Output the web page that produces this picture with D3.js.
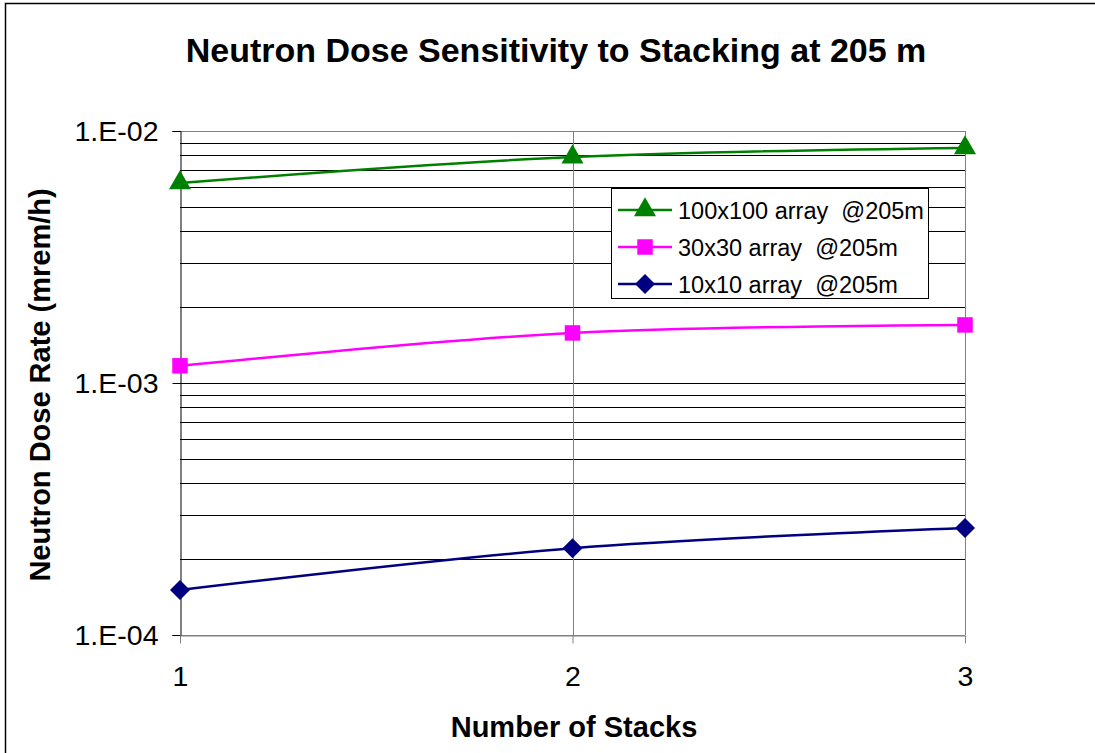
<!DOCTYPE html>
<html><head><meta charset="utf-8">
<script src="https://cdn.jsdelivr.net/npm/d3@7/dist/d3.min.js"></script>
<style>body{margin:0;background:#fff}svg{display:block;font-family:"Liberation Sans",Arial,sans-serif}</style>
</head><body>
<svg id="c" width="1095" height="753"></svg>
<script>
const stacks = [1, 2, 3];
const series100 = [6.22e-3, 7.88e-3, 8.57e-3];
const series30 = [1.17e-3, 1.58e-3, 1.70e-3];
const series10 = [1.51e-4, 2.21e-4, 2.66e-4];
const seriesNames = ["100x100 array  @205m", "30x30 array  @205m", "10x10 array  @205m"];
const yTickValues = [1e-4, 1e-3, 1e-2];
const yTickLabels = ["1.E-04", "1.E-03", "1.E-02"];
const xTickLabels = ["1", "2", "3"];

(function () {
const svg = d3.select("#c");
const pL = 180, pR = 965, pT = 131, pB = 635;
const x = d3.scaleLinear().domain([1, 3]).range([pL, pR]);
const y = d3.scaleLog().domain([1e-4, 1e-2]).range([pB, pT]);

// outer border
svg.append("rect").attr("x", 5.5).attr("y", 3.5).attr("width", 1100).attr("height", 800)
  .attr("fill", "none").attr("stroke", "#000").attr("stroke-width", 1.5);

// title
svg.append("text").attr("x", 556).attr("y", 62).attr("text-anchor", "middle")
  .attr("font-size", 34).attr("font-weight", "bold").text("Neutron Dose Sensitivity to Stacking at 205 m");

// horizontal gridlines at minor ticks
const gridVals = [];
for (let d = -4; d < -2; d++) for (let m = 1; m <= 9; m++) gridVals.push(m * Math.pow(10, d));
gridVals.push(1e-2);
const g = svg.append("g").attr("shape-rendering", "crispEdges");
g.selectAll("line.h").data(gridVals).join("line")
  .attr("x1", pL).attr("x2", pR)
  .attr("y1", d => Math.round(y(d)) + 0.5).attr("y2", d => Math.round(y(d)) + 0.5)
  .attr("stroke", (d, i) => (i === 0 || d === 1e-2) ? "#808080" : "#000").attr("stroke-width", 1);

// vertical gridlines
g.selectAll("line.v").data([2, 3]).join("line")
  .attr("x1", d => Math.round(x(d)) + 0.5).attr("x2", d => Math.round(x(d)) + 0.5)
  .attr("y1", pT).attr("y2", pB)
  .attr("stroke", "#808080");

// y axis
const yAxis = d3.axisLeft(y).tickValues(yTickValues).tickFormat((d, i) => yTickLabels[i]).tickSize(8).tickPadding(14);
const ya = svg.append("g").attr("transform", `translate(${pL + 0.5},0)`).call(yAxis);
ya.selectAll("text").attr("font-size", 28.5).attr("fill", "#000").attr("font-family", "Liberation Sans, Arial, sans-serif");
ya.selectAll("line,path").attr("stroke", "#000");

// x axis
const xAxis = d3.axisBottom(x).tickValues(stacks).tickFormat((d, i) => xTickLabels[i]).tickSize(8).tickSizeOuter(0).tickPadding(22);
const xa = svg.append("g").attr("transform", `translate(0,${pB + 0.5})`).call(xAxis);
xa.selectAll("text").attr("font-size", 28.5).attr("fill", "#000").attr("font-family", "Liberation Sans, Arial, sans-serif");
xa.selectAll("line").attr("stroke", "#808080");
xa.select("path").attr("stroke", "#808080");
ya.select("path").attr("stroke", "#000");

// axis titles
svg.append("text").attr("x", 574).attr("y", 737).attr("text-anchor", "middle")
  .attr("font-size", 29).attr("font-weight", "bold").text("Number of Stacks");
svg.append("text").attr("transform", "translate(50,385) rotate(-90)").attr("text-anchor", "middle")
  .attr("font-size", 29).attr("font-weight", "bold").text("Neutron Dose Rate (mrem/h)");

const diamond = {
  draw(ctx, size) {
    const r = Math.sqrt(size / 2);
    ctx.moveTo(0, -r); ctx.lineTo(r, 0); ctx.lineTo(0, r); ctx.lineTo(-r, 0); ctx.closePath();
  }
};
const series = [
  { name: seriesNames[0], vals: series100, color: "#008000", shape: d3.symbolTriangle, size: 210 },
  { name: seriesNames[1], vals: series30, color: "#FF00FF", shape: d3.symbolSquare, size: 240 },
  { name: seriesNames[2], vals: series10, color: "#000080", shape: diamond, size: 200 }
];

const line = d3.line().x(d => x(d[0])).y(d => y(d[1])).curve(d3.curveCatmullRom.alpha(0));
series.forEach(s => {
  const pts = stacks.map((v, i) => [v, s.vals[i]]);
  svg.append("path").attr("d", line(pts)).attr("fill", "none").attr("stroke", s.color).attr("stroke-width", 2.5);
  svg.selectAll(null).data(pts).join("path")
    .attr("transform", d => `translate(${x(d[0])},${y(d[1])})`)
    .attr("d", d3.symbol().type(s.shape).size(s.size)).attr("fill", s.color);
});

// legend
const lg = svg.append("g");
lg.append("rect").attr("x", 611.5).attr("y", 188.5).attr("width", 317).attr("height", 110)
  .attr("fill", "#fff").attr("stroke", "#000").attr("stroke-width", 1);
series.forEach((s, i) => {
  const cy = 210 + i * 37;
  lg.append("line").attr("x1", 618).attr("x2", 672).attr("y1", cy).attr("y2", cy)
    .attr("stroke", s.color).attr("stroke-width", 2.5);
  lg.append("path").attr("transform", `translate(645,${cy})`)
    .attr("d", d3.symbol().type(s.shape).size(s.size)).attr("fill", s.color);
  lg.append("text").attr("x", 678).attr("y", cy + 9).attr("font-size", 23.5)
    .style("white-space", "pre").text(s.name);
});
})();
</script>
</body></html>
